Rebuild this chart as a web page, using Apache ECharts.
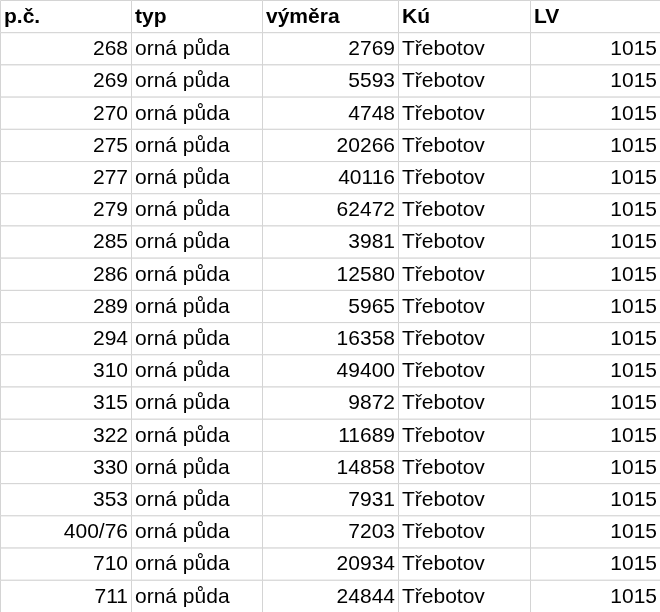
<!DOCTYPE html>
<html><head><meta charset="utf-8">
<script src="https://cdn.jsdelivr.net/npm/echarts@6/dist/echarts.min.js"></script>
<style>html,body{margin:0;padding:0;background:#fff}#c{width:660px;height:612px}</style>
</head><body><div id="c"></div>
<script>
const headers = ['p.č.', 'typ', 'výměra', 'Kú', 'LV'];
const parcels = ['268','269','270','275','277','279','285','286','289','294','310','315','322','330','353','400/76','710','711'];
const types = Array(18).fill('orná půda');
const areas = [2769,5593,4748,20266,40116,62472,3981,12580,5965,16358,49400,9872,11689,14858,7931,7203,20934,24844];
const cadastres = Array(18).fill('Třebotov');
const lvs = Array(18).fill(1015);

const colEdges = [0, 131, 262, 398, 530, 660];
const colAlign = ['right', 'left', 'right', 'left', 'right'];

const cells = [];
headers.forEach((h, c) => cells.push([c, 0, h, 1]));
parcels.forEach((p, i) => {
  const row = [p, types[i], String(areas[i]), cadastres[i], String(lvs[i])];
  row.forEach((v, c) => cells.push([c, i + 1, v, 0]));
});

const chart = echarts.init(document.getElementById('c'));
chart.setOption({
  animation: false,
  grid: { left: 0, right: 0, top: 0, bottom: 0 },
  xAxis: { type: 'value', min: 0, max: 660, show: false },
  yAxis: { type: 'value', min: 0, max: 19, inverse: true, show: false },
  series: [{
    type: 'custom',
    data: cells,
    renderItem: function (params, api) {
      const c = api.value(0), r = api.value(1);
      const d = cells[params.dataIndex];
      const p0 = api.coord([colEdges[c], r]);
      const p1 = api.coord([colEdges[c + 1], r + 1]);
      const align = d[3] ? 'left' : colAlign[c];
      const tx = align === 'right' ? p1[0] - 3 : p0[0] + 4;
      return {
        type: 'group',
        children: [
          { type: 'rect', shape: { x: p0[0] + 0.5, y: p0[1] + 0.5, width: p1[0] - p0[0], height: p1[1] - p0[1] },
            style: { fill: '#fff', stroke: '#d4d4d4', lineWidth: 1 } },
          { type: 'text', x: tx, y: (p0[1] + p1[1]) / 2 + 1,
            style: { text: d[2], textAlign: align, textVerticalAlign: 'middle',
              font: (d[3] ? 'bold ' : '') + '21px "Liberation Sans", Arial, sans-serif', fill: '#000' } }
        ]
      };
    }
  }]
});
</script></body></html>
